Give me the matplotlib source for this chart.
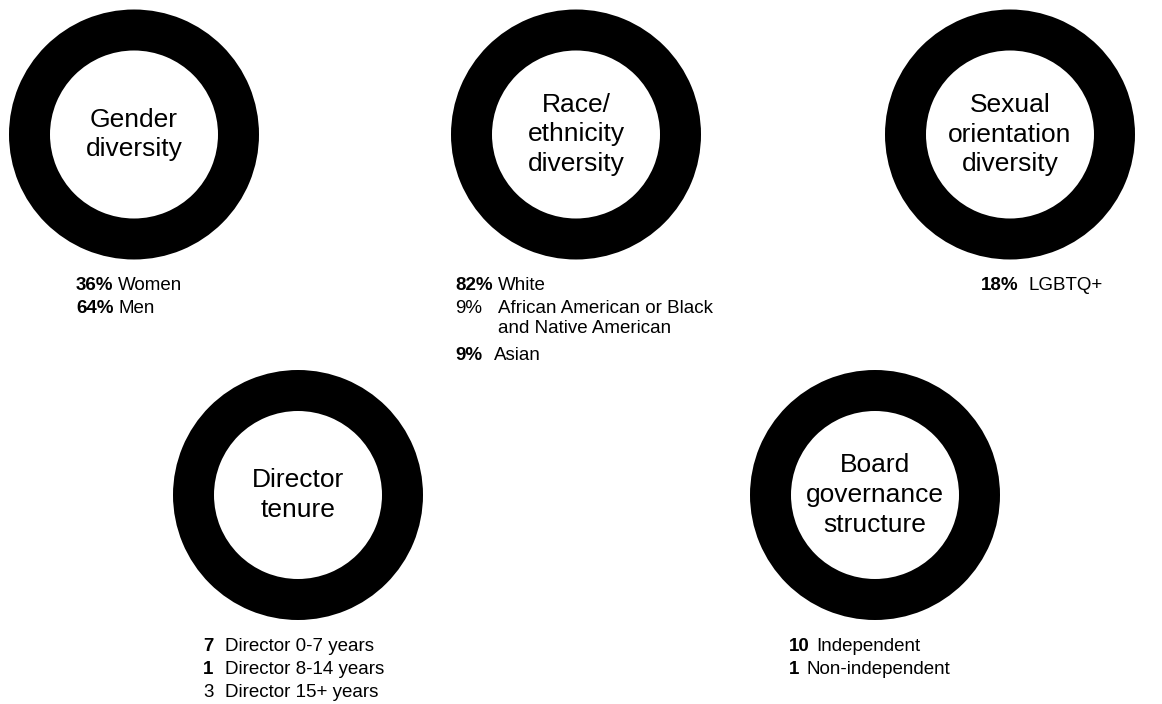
import matplotlib
matplotlib.use("Agg")
import matplotlib.pyplot as plt

# ---- data ----
ring_titles = ["Gender\ndiversity", "Race/\nethnicity\ndiversity",
               "Sexual\norientation\ndiversity", "Director\ntenure",
               "Board\ngovernance\nstructure"]
ring_totals = [100, 100, 100, 11, 11]

gender_values = ["36%", "64%"]
gender_labels = ["Women", "Men"]

race_values = ["82%", "9%", "9%"]
race_labels = ["White", "African American or Black\nand Native American", "Asian"]
race_bold = [True, False, True]

orientation_values = ["18%"]
orientation_labels = ["LGBTQ+"]

tenure_values = ["7", "1", "3"]
tenure_labels = ["Director 0-7 years", "Director 8-14 years", "Director 15+ years"]
tenure_bold = [True, True, False]

board_values = ["10", "1"]
board_labels = ["Independent", "Non-independent"]

# ---- layout ----
W, H = 1162, 704
fig = plt.figure(figsize=(W / 100, H / 100), dpi=100)
ax = fig.add_axes([0, 0, 1, 1])

centers = [(134, 134.5), (576, 134.5), (1010, 134.5), (298, 495), (875, 495)]
R_OUT, WIDTH = 125, 41
FONT = ["Liberation Sans", "DejaVu Sans"]

for (cx, cy), total, title in zip(centers, ring_totals, ring_titles):
    ax.pie([total], radius=R_OUT, center=(cx, cy), colors=["black"],
           wedgeprops=dict(width=WIDTH, linewidth=0))
    ax.text(cx, cy, title, ha="center", va="center", fontsize=19,
            family=FONT, linespacing=1.3, color="black")

ax.set_xlim(0, W)
ax.set_ylim(H, 0)
ax.set_aspect("auto")
ax.axis("off")

FS = 13.5


def rows(x_num, x_lab, ys, values, labels, bolds=None, x_labs=None):
    for i, (y, v, l) in enumerate(zip(ys, values, labels)):
        b = True if bolds is None else bolds[i]
        xl = x_lab if x_labs is None else x_labs[i]
        ax.text(x_num, y, v, ha="left", va="top", fontsize=FS, family=FONT,
                fontweight="bold" if b else "normal", color="black")
        ax.text(xl, y, l, ha="left", va="top", fontsize=FS, family=FONT,
                color="black", linespacing=1.2)


rows(76, 118, [277, 300], gender_values, gender_labels)
rows(455, 498, [277, 300, 347], race_values, race_labels, race_bold,
     x_labs=[498, 498, 494])
rows(981, 1029, [277], orientation_values, orientation_labels)
rows(203, 225, [638, 661, 684], tenure_values, tenure_labels, tenure_bold)
rows(789, 816, [638, 661], board_values, board_labels, x_labs=[816, 806])

fig.savefig("out.png", dpi=100)
